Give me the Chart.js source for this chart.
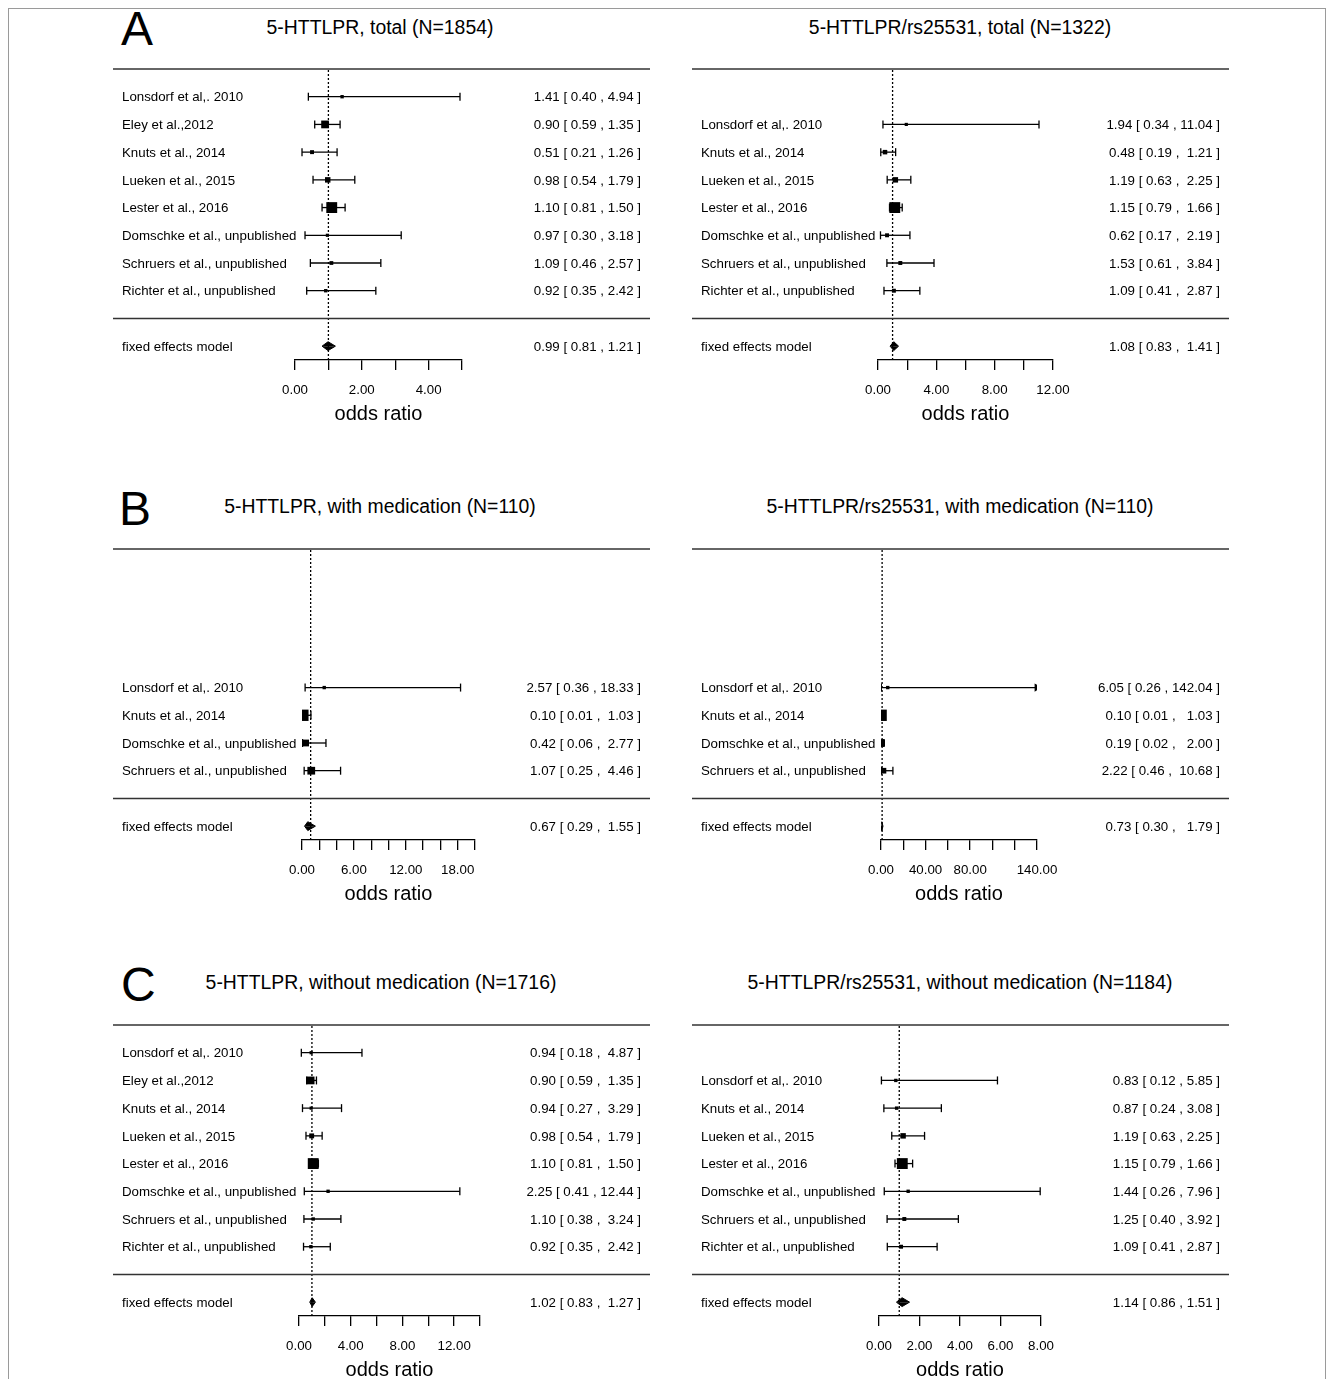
<!DOCTYPE html>
<html>
<head>
<meta charset="utf-8">
<script src="https://cdn.jsdelivr.net/npm/chart.js@4.4.1/dist/chart.umd.min.js"></script>
<style>
  body { margin: 0; width: 1333px; height: 1379px; overflow: hidden; background: #fff; position: relative;
         font-family: "Liberation Sans", Arial, sans-serif; color: #000; }
  .frame { position: absolute; left: 8px; top: 8px; width: 1318px; height: 1420px; border: 1px solid #9a9a9a; box-sizing: border-box; }
  .letter { position: absolute; font-size: 48px; line-height: 48px; }
  .title { position: absolute; font-size: 19.4px; line-height: 1; transform: translate(-50%, -50%); white-space: nowrap; }
  canvas { position: absolute; }
</style>
</head>
<body>
<div class="frame"></div>

<div class="letter" style="left:121px;top:5px">A</div>
<div class="title" style="left:380px;top:28px">5-HTTLPR, total (N=1854)</div>
<div class="title" style="left:960px;top:28px">5-HTTLPR/rs25531, total (N=1322)</div>
<div class="letter" style="left:119px;top:485px">B</div>
<div class="title" style="left:380px;top:507px">5-HTTLPR, with medication (N=110)</div>
<div class="title" style="left:960px;top:507px">5-HTTLPR/rs25531, with medication (N=110)</div>
<div class="letter" style="left:121px;top:961px">C</div>
<div class="title" style="left:381px;top:983px">5-HTTLPR, without medication (N=1716)</div>
<div class="title" style="left:960px;top:983px">5-HTTLPR/rs25531, without medication (N=1184)</div>

<canvas id="aLeft" width="560" height="371" style="left:105px;top:59px"></canvas>
<canvas id="aRight" width="560" height="371" style="left:684px;top:59px"></canvas>
<canvas id="bLeft" width="560" height="371" style="left:105px;top:539px"></canvas>
<canvas id="bRight" width="560" height="371" style="left:684px;top:539px"></canvas>
<canvas id="cLeft" width="560" height="371" style="left:105px;top:1015px"></canvas>
<canvas id="cRight" width="560" height="371" style="left:684px;top:1015px"></canvas>

<script>
// study lists
const studies8 = ['Lonsdorf et al,. 2010', 'Eley et al.,2012', 'Knuts et al., 2014', 'Lueken et al., 2015',
  'Lester et al., 2016', 'Domschke et al., unpublished', 'Schruers et al., unpublished', 'Richter et al., unpublished'];
const studies7 = ['Lonsdorf et al,. 2010', 'Knuts et al., 2014', 'Lueken et al., 2015', 'Lester et al., 2016',
  'Domschke et al., unpublished', 'Schruers et al., unpublished', 'Richter et al., unpublished'];
const studies4 = ['Lonsdorf et al,. 2010', 'Knuts et al., 2014', 'Domschke et al., unpublished', 'Schruers et al., unpublished'];

// A: total
const aLeftEst = [1.41, 0.90, 0.51, 0.98, 1.10, 0.97, 1.09, 0.92];
const aLeftLower = [0.40, 0.59, 0.21, 0.54, 0.81, 0.30, 0.46, 0.35];
const aLeftUpper = [4.94, 1.35, 1.26, 1.79, 1.50, 3.18, 2.57, 2.42];
const aLeftWeight = [0.06, 0.52, 0.12, 0.28, 0.85, 0.04, 0.10, 0.06];
const aLeftFixed = [0.99, 0.81, 1.21];
const aLeftTickLabels = [0, 2, 4];

const aRightEst = [1.94, 0.48, 1.19, 1.15, 0.62, 1.53, 1.09];
const aRightLower = [0.34, 0.19, 0.63, 0.79, 0.17, 0.61, 0.41];
const aRightUpper = [11.04, 1.21, 2.25, 1.66, 2.19, 3.84, 2.87];
const aRightWeight = [0.04, 0.18, 0.28, 0.85, 0.12, 0.12, 0.12];
const aRightFixed = [1.08, 0.83, 1.41];
const aRightTickLabels = [0, 4, 8, 12];

// B: with medication
const bLeftEst = [2.57, 0.10, 0.42, 1.07];
const bLeftLower = [0.36, 0.01, 0.06, 0.25];
const bLeftUpper = [18.33, 1.03, 2.77, 4.46];
const bLeftWeight = [0.06, 0.90, 0.42, 0.52];
const bLeftFixed = [0.67, 0.29, 1.55];
const bLeftTickLabels = [0, 6, 12, 18];

const bRightEst = [6.05, 0.10, 0.19, 2.22];
const bRightLower = [0.26, 0.01, 0.02, 0.46];
const bRightUpper = [142.04, 1.03, 2.00, 10.68];
const bRightWeight = [0.06, 0.90, 0.50, 0.30];
const bRightFixed = [0.73, 0.30, 1.79];
const bRightTickLabels = [0, 40, 80, 140];

// C: without medication
const cLeftEst = [0.94, 0.90, 0.94, 0.98, 1.10, 2.25, 1.10, 0.92];
const cLeftLower = [0.18, 0.59, 0.27, 0.54, 0.81, 0.41, 0.38, 0.35];
const cLeftUpper = [4.87, 1.35, 3.29, 1.79, 1.50, 12.44, 3.24, 2.42];
const cLeftWeight = [0.04, 0.52, 0.04, 0.22, 0.85, 0.06, 0.06, 0.06];
const cLeftFixed = [1.02, 0.83, 1.27];
const cLeftTickLabels = [0, 4, 8, 12];

const cRightEst = [0.83, 0.87, 1.19, 1.15, 1.44, 1.25, 1.09];
const cRightLower = [0.12, 0.24, 0.63, 0.79, 0.26, 0.40, 0.41];
const cRightUpper = [5.85, 3.08, 2.25, 1.66, 7.96, 3.92, 2.87];
const cRightWeight = [0.06, 0.06, 0.28, 0.85, 0.06, 0.12, 0.12];
const cRightFixed = [1.14, 0.86, 1.51];
const cRightTickLabels = [0, 2, 4, 6, 8];

const FONT = '"Liberation Sans", Arial, sans-serif';
const INK = '#000';

const panels = [
  { id: 'aLeft', studies: studies8, est: aLeftEst, lo: aLeftLower, hi: aLeftUpper, w: aLeftWeight, fixed: aLeftFixed,
    max: 5, step: 1, tickLabels: aLeftTickLabels, padL: 190, padR: 203 },
  { id: 'aRight', studies: studies7, est: aRightEst, lo: aRightLower, hi: aRightUpper, w: aRightWeight, fixed: aRightFixed,
    max: 12, step: 2, tickLabels: aRightTickLabels, padL: 194, padR: 191 },
  { id: 'bLeft', studies: studies4, est: bLeftEst, lo: bLeftLower, hi: bLeftUpper, w: bLeftWeight, fixed: bLeftFixed,
    max: 20, step: 2, tickLabels: bLeftTickLabels, padL: 197, padR: 190 },
  { id: 'bRight', studies: studies4, est: bRightEst, lo: bRightLower, hi: bRightUpper, w: bRightWeight, fixed: bRightFixed,
    max: 140, step: 20, tickLabels: bRightTickLabels, padL: 197, padR: 207 },
  { id: 'cLeft', studies: studies8, est: cLeftEst, lo: cLeftLower, hi: cLeftUpper, w: cLeftWeight, fixed: cLeftFixed,
    max: 14, step: 2, tickLabels: cLeftTickLabels, padL: 194, padR: 185 },
  { id: 'cRight', studies: studies7, est: cRightEst, lo: cRightLower, hi: cRightUpper, w: cRightWeight, fixed: cRightFixed,
    max: 8, step: 2, tickLabels: cRightTickLabels, padL: 195, padR: 203 }
];

function ciText(e, l, h, width) {
  const hs = h.toFixed(2);
  return e.toFixed(2) + ' [ ' + l.toFixed(2) + ' , ' + ' '.repeat(width - hs.length) + hs + ' ]';
}

function drawForest(p) {
  const k = p.studies.length;
  const rowOf = i => k - i;
  const hiWidth = Math.max(...p.hi.concat([p.fixed[2]]).map(v => v.toFixed(2).length));

  const datasets = [];
  // reference line at OR = 1
  datasets.push({ data: [{ x: 1, y: -1.5 }, { x: 1, y: 9 }], borderColor: INK, borderWidth: 1.3,
    borderDash: [2, 2], pointRadius: 0 });

  // confidence intervals with end caps (arrow if cut off by the axis)
  p.studies.forEach((s, i) => {
    const r = rowOf(i);
    const cut = p.hi[i] > p.max;
    datasets.push({
      data: [{ x: p.lo[i], y: r }, { x: Math.min(p.hi[i], p.max), y: r }],
      borderColor: INK, borderWidth: 1.3,
      pointStyle: ['line', cut ? 'triangle' : 'line'], rotation: 90,
      pointRadius: [4, cut ? 3.5 : 4], pointBorderColor: INK, pointBackgroundColor: INK, pointBorderWidth: 1.3
    });
  });

  // point estimates, box size by weight
  datasets.push({
    data: p.est.map((e, i) => ({ x: e, y: rowOf(i) })), showLine: false,
    pointStyle: 'rect', pointRadius: p.w.map(w => (2.8 + 9.5 * w) / Math.SQRT2),
    pointBackgroundColor: '#000', pointBorderWidth: 0
  });

  // summary diamond
  const [fe, fl, fh] = p.fixed;
  const dh = 0.16;
  [dh, -dh].forEach(d => {
    datasets.push({ data: [{ x: fl, y: -1 }, { x: fe, y: -1 + d }, { x: fh, y: -1 }],
      fill: { value: -1 }, backgroundColor: '#000', borderColor: '#000', borderWidth: 1, pointRadius: 0 });
  });

  const textPlugin = {
    id: 'forestText',
    afterDraw(chart) {
      const ctx = chart.ctx;
      const y = chart.scales.y;
      ctx.save();
      ctx.strokeStyle = '#333';
      ctx.lineWidth = 1.5;
      [9, 0].forEach(r => {
        const py = y.getPixelForValue(r);
        ctx.beginPath();
        ctx.moveTo(8, py);
        ctx.lineTo(545, py);
        ctx.stroke();
      });
      ctx.fillStyle = INK;
      ctx.font = '13.3px ' + FONT;
      ctx.textBaseline = 'middle';
      p.studies.forEach((s, i) => {
        const py = y.getPixelForValue(rowOf(i)) + 1;
        ctx.textAlign = 'left';
        ctx.fillText(s, 17, py);
        ctx.textAlign = 'right';
        ctx.fillText(ciText(p.est[i], p.lo[i], p.hi[i], hiWidth), 536, py);
      });
      const fy = y.getPixelForValue(-1) + 1;
      ctx.textAlign = 'left';
      ctx.fillText('fixed effects model', 17, fy);
      ctx.textAlign = 'right';
      ctx.fillText(ciText(fe, fl, fh, hiWidth), 536, fy);
      ctx.restore();
    }
  };

  new Chart(document.getElementById(p.id), {
    type: 'line',
    data: { datasets },
    options: {
      responsive: false,
      animation: false,
      events: [],
      layout: { padding: { left: p.padL, right: p.padR, top: 10, bottom: 4 } },
      plugins: { legend: { display: false }, tooltip: { enabled: false } },
      scales: {
        x: {
          type: 'linear', position: 'bottom', min: 0, max: p.max,
          ticks: {
            stepSize: p.step, autoSkip: false, maxRotation: 0, padding: 12, color: INK,
            font: { size: 13.3, family: FONT },
            callback: v => p.tickLabels.includes(v) ? v.toFixed(2) : ''
          },
          grid: { drawOnChartArea: false, drawTicks: true, tickLength: 10, color: INK, lineWidth: 1.3 },
          border: { display: true, color: INK, width: 1.3 },
          title: { display: true, text: 'odds ratio', color: INK, font: { size: 20, family: FONT },
            padding: { top: 4, bottom: 0 } },
          afterFit: s => { s.height = 66; }
        },
        y: { type: 'linear', min: -1.5, max: 9, display: false }
      }
    },
    plugins: [textPlugin]
  });
}

panels.forEach(drawForest);
</script>
</body>
</html>
